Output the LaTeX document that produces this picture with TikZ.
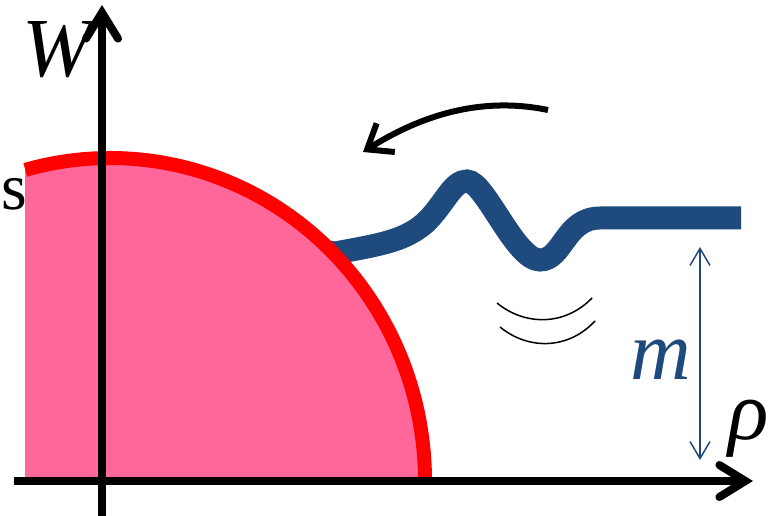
\documentclass[tikz,border=0pt]{standalone}
\usepackage{fontspec}
\setmainfont{Liberation Serif}
\usetikzlibrary{arrows.meta}
\definecolor{pinkfill}{RGB}{255,102,153}
\definecolor{wireblue}{RGB}{31,74,125}
\tikzset{
  axisline/.style={line width=8pt, -{Straight Barb[length=26pt,width=32pt,line cap=round]}},
  biglabel/.style={font=\fontsize{84}{84}\selectfont\itshape, inner sep=0pt, anchor=base},
}
\begin{document}
\begin{tikzpicture}[x=1pt,y=1pt]
\useasboundingbox (0,0) rectangle (771,516);
% blue string (drawn first, hidden inside the disk)
\draw[wireblue, line width=23pt] (300,268) -- (335,263)
  .. controls (385,272) and (405,276) .. (425,293)
  .. controls (445,312) and (452,335) .. (467,335)
  .. controls (485,335) and (515,256) .. (540,256)
  .. controls (563,256) and (565,298) .. (600,298) -- (741,298);
% pink disk
\begin{scope}
  \clip (25,35) rectangle (771,516);
  \fill[pinkfill] (110,35) ellipse [x radius=315, y radius=323];
\end{scope}
% red rim
\draw[red, line width=14pt] (110,35) ++(105.6:315 and 323)
  arc[start angle=105.6, end angle=0, x radius=315, y radius=323];
% axes
\coordinate (xa) at (14,35);
\coordinate (xb) at (753,35);
\coordinate (ya) at (102,-5);
\coordinate (yb) at (102,511);
\draw[axisline] (xa) -- (xb);
\draw[axisline] (ya) -- (yb);
% curved arrow
\coordinate (ca) at (548,406);
\coordinate (cb) at (363,364);
\draw[line width=6pt, -{Straight Barb[length=22pt,width=34pt]}] (ca)
  .. controls (480,420) and (420,400) .. (cb);
% small arcs
\coordinate (a1) at (497,213);
\coordinate (a2) at (592,218);
\coordinate (b1) at (500,189);
\coordinate (b2) at (595,195);
\draw[line width=1.5pt] (a1) .. controls (525,190) and (565,190) .. (a2);
\draw[line width=1.5pt] (b1) .. controls (528,166) and (568,166) .. (b2);
% m arrow
\coordinate (ma) at (700,269);
\coordinate (mb) at (700,56);
\draw[wireblue, line width=1.5pt, {Straight Barb[length=17pt,width=20pt]}-{Straight Barb[length=17pt,width=20pt]}] (ma) -- (mb);
% labels
\node[biglabel, text=wireblue] (m) at (661,136) {m};
\node[biglabel] (W) at (57,439) {W};
\node[biglabel] (rho) at (749,76) {ρ};
\node[font=\fontsize{66}{66}\selectfont, inner sep=0pt, anchor=base west] (s) at (1,306) {s};
\end{tikzpicture}
\end{document}
